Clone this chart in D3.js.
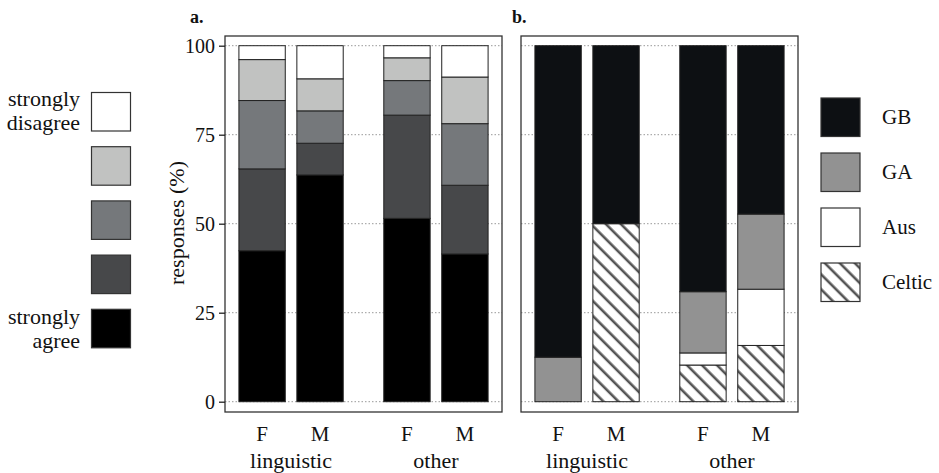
<!DOCTYPE html>
<html>
<head>
<meta charset="utf-8">
<script src="https://cdn.jsdelivr.net/npm/d3@7"></script>
<style>
  body { margin: 0; background: #fff; }
</style>
</head>
<body>
<div id="chart"></div>
<script>
// data, bars ordered linguistic F, linguistic M, other F, other M
const groups = ['linguistic', 'other'];
const sexes = ['F', 'M'];
const barPos = [1, 2, 3.5, 4.5];

// panel a, stacked bottom -> top
const agreeKeys = ['sa', 'a', 'n', 'd', 'sd'];
const agreeValues = [
  [42.4, 23.0, 19.2, 11.5, 3.9],
  [63.7, 8.9, 9.1, 9.0, 9.3],
  [51.5, 29.0, 9.7, 6.4, 3.4],
  [41.5, 19.3, 17.3, 13.1, 8.8]
];
const agreeColors = ['#000000', '#47484a', '#75787b', '#c1c2c1', '#ffffff'];

// panel b, stacked bottom -> top
const accentKeys = ['Celtic', 'Aus', 'GA', 'GB'];
const accentValues = [
  [0, 0, 12.5, 87.5],
  [50, 0, 0, 50],
  [10.3, 3.4, 17.2, 69.1],
  [15.8, 15.8, 21.1, 47.3]
];
const accentColors = ['url(#hatch)', '#ffffff', '#929292', '#0d1013'];
const yTicks = [0, 25, 50, 75, 100];

const FONT = '"Liberation Serif", "DejaVu Serif", Times, serif';
const width = 939, height = 473;
const svg = d3.select('#chart').append('svg')
  .attr('width', width)
  .attr('height', height)
  .attr('font-family', FONT);

const defs = svg.append('defs');
const pat = defs.append('pattern')
  .attr('id', 'hatch')
  .attr('patternUnits', 'userSpaceOnUse')
  .attr('width', 10.6)
  .attr('height', 10.6)
  .attr('patternTransform', 'rotate(-45)');
pat.append('rect').attr('width', 10.6).attr('height', 10.6).attr('fill', '#fff');
pat.append('line')
  .attr('x1', 5).attr('x2', 5).attr('y1', 0).attr('y2', 10.6)
  .attr('stroke', '#555').attr('stroke-width', 2.6);

const y = d3.scaleLinear().domain([0, 100]).range([401.7, 45.7]);
const frameTop = 36, frameBottom = 412;

function txt(sel) {
  return sel.attr('font-family', FONT).attr('fill', '#111');
}

function drawPanel(left, right, keys, values, colors, label, labelX, withAxis) {
  const x = d3.scaleLinear().domain([0.36, 5.14]).range([left, right]);
  const bw = (x(1.8) - x(1));
  const g = svg.append('g');

  // grid
  g.selectAll('.grid').data(yTicks).enter().append('line')
    .attr('x1', left).attr('x2', right)
    .attr('y1', d => y(d)).attr('y2', d => y(d))
    .attr('stroke', '#999').attr('stroke-width', 1)
    .attr('stroke-dasharray', '1.5,2');

  const rows = values.map((v, i) => {
    const o = { pos: barPos[i] };
    keys.forEach((k, j) => o[k] = v[j]);
    return o;
  });
  const series = d3.stack().keys(keys)(rows);

  g.selectAll('.layer').data(series).enter().append('g')
    .attr('fill', (d, i) => colors[i])
    .selectAll('rect').data(d => d.filter(s => s[1] - s[0] > 0)).enter().append('rect')
    .attr('x', d => x(d.data.pos) - bw / 2)
    .attr('width', bw)
    .attr('y', d => y(d[1]))
    .attr('height', d => y(d[0]) - y(d[1]))
    .attr('stroke', '#222')
    .attr('stroke-width', 1);

  // frame
  g.append('rect')
    .attr('x', left).attr('y', frameTop)
    .attr('width', right - left).attr('height', frameBottom - frameTop)
    .attr('fill', 'none').attr('stroke', '#333').attr('stroke-width', 1.3);

  if (withAxis) {
    const ax = g.append('g')
      .attr('transform', `translate(${left},0)`)
      .call(d3.axisLeft(y).tickValues(yTicks).tickSize(6).tickPadding(4));
    ax.attr('font-family', FONT).attr('font-size', 20);
    ax.select('.domain').remove();
    ax.selectAll('.tick line').attr('stroke', '#222').attr('stroke-width', 1.3);
    ax.selectAll('.tick text').attr('fill', '#111');
  }

  // x labels
  txt(g.selectAll('.sx').data(barPos).enter().append('text'))
    .attr('x', d => x(d)).attr('y', 441)
    .attr('text-anchor', 'middle')
    .attr('font-size', 21)
    .text((d, i) => sexes[i % 2]);
  txt(g.selectAll('.gx').data(groups).enter().append('text'))
    .attr('x', (d, i) => (x(barPos[i * 2]) + x(barPos[i * 2 + 1])) / 2)
    .attr('y', 468)
    .attr('text-anchor', 'middle')
    .attr('font-size', 22)
    .text(d => d);

  txt(svg.append('text'))
    .attr('x', labelX).attr('y', 23)
    .attr('font-size', 18).attr('font-weight', 'bold')
    .text(label);
}

drawPanel(225, 502, agreeKeys, agreeValues, agreeColors, 'a.', 190, true);
drawPanel(521, 798, accentKeys, accentValues, accentColors, 'b.', 512, false);

txt(svg.append('text'))
  .attr('transform', 'translate(184,223) rotate(-90)')
  .attr('text-anchor', 'middle')
  .attr('font-size', 22)
  .text('responses (%)');

// left legend (top = strongly disagree)
const legA = svg.append('g');
const legAOrder = agreeColors.slice().reverse();
legA.selectAll('rect').data(legAOrder).enter().append('rect')
  .attr('x', 91.5).attr('y', (d, i) => 92.5 + i * 54.2)
  .attr('width', 39).attr('height', 38.5)
  .attr('fill', d => d).attr('stroke', '#333').attr('stroke-width', 1.2);
const legALabels = [
  { t: 'strongly', y: 106 }, { t: 'disagree', y: 130 },
  { t: 'strongly', y: 324 }, { t: 'agree', y: 348 }
];
txt(legA.selectAll('text').data(legALabels).enter().append('text'))
  .attr('x', 80).attr('y', d => d.y)
  .attr('text-anchor', 'end')
  .attr('font-size', 22)
  .text(d => d.t);

// right legend (top = GB)
const legB = svg.append('g');
const legBKeys = accentKeys.slice().reverse();
const legBColors = accentColors.slice().reverse();
legB.selectAll('rect').data(legBKeys).enter().append('rect')
  .attr('x', 821).attr('y', (d, i) => 98 + i * 55)
  .attr('width', 39).attr('height', 38.5)
  .attr('fill', (d, i) => legBColors[i]).attr('stroke', '#333').attr('stroke-width', 1.2);
txt(legB.selectAll('text').data(legBKeys).enter().append('text'))
  .attr('x', 882).attr('y', (d, i) => 124 + i * 55)
  .attr('font-size', 21)
  .text(d => d);
</script>
</body>
</html>
